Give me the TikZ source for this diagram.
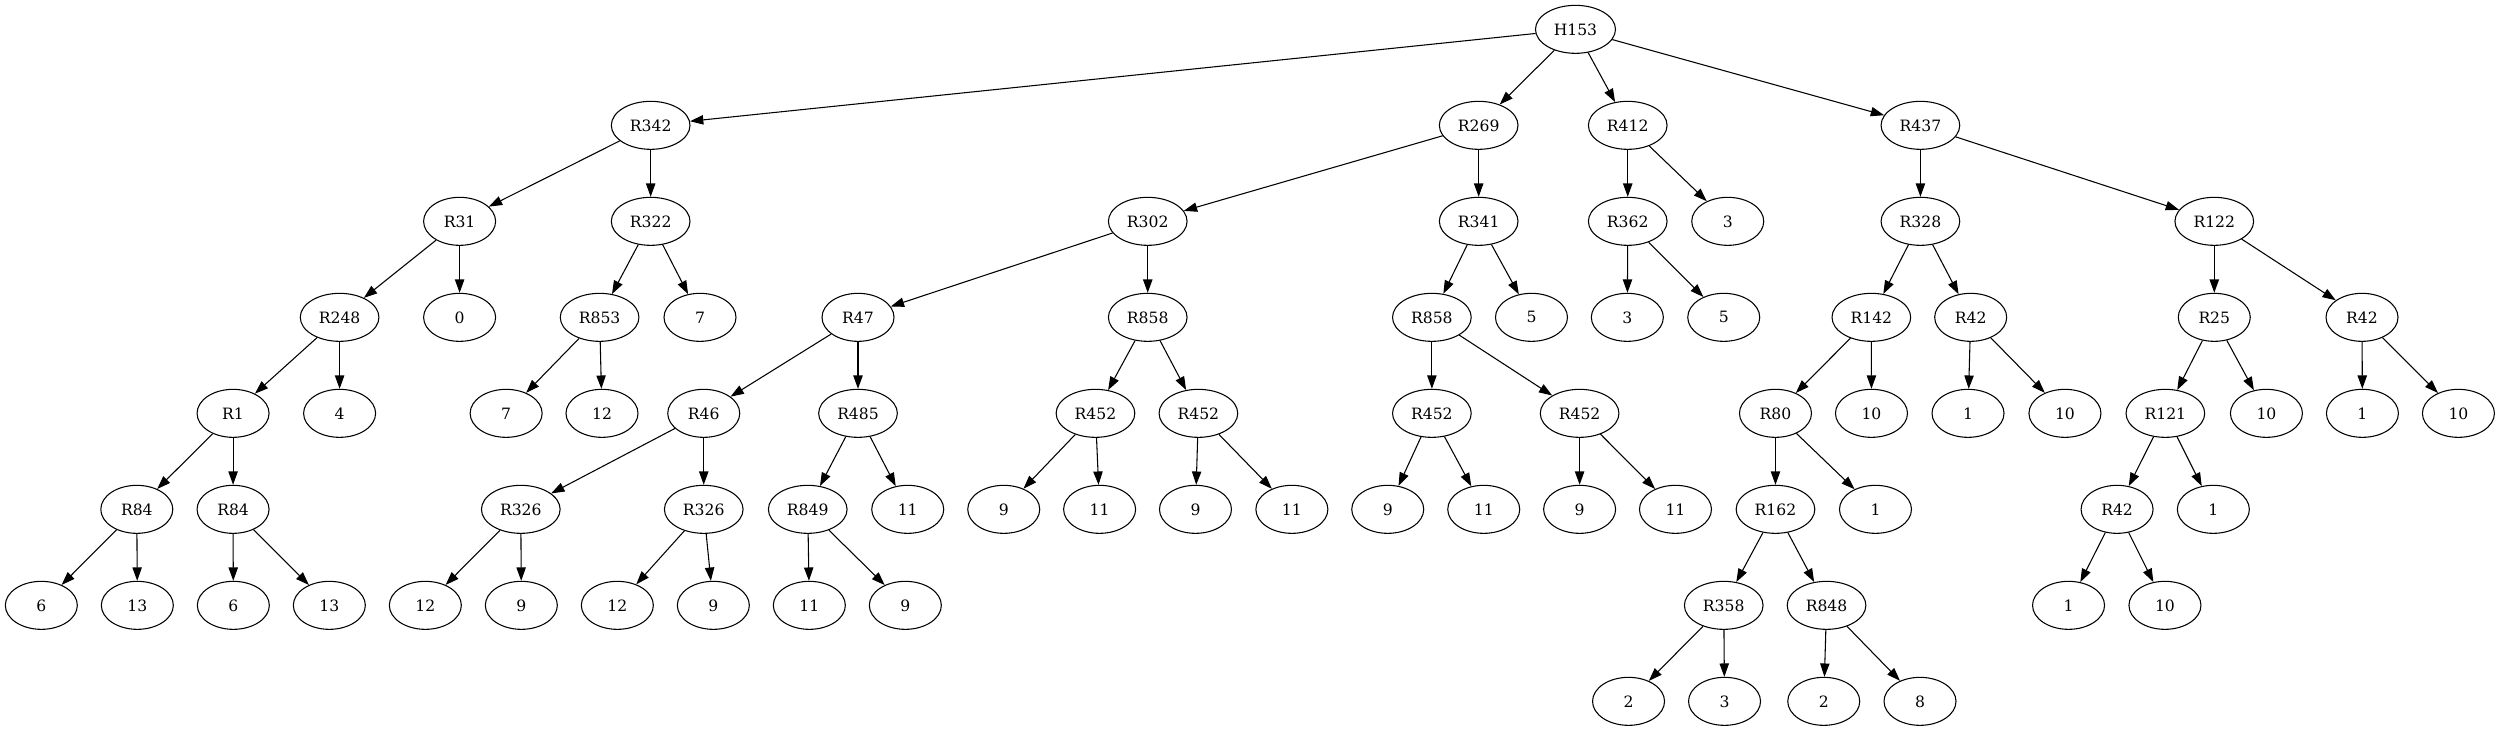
\documentclass[tikz,border=0pt]{standalone}
\usepackage{fontspec}
\setmainfont{DejaVu Serif}
\usetikzlibrary{arrows.meta,shapes.geometric}
\tikzset{
  nd/.style={draw, ellipse, line width=0.8pt, inner sep=0pt, minimum width=54pt, minimum height=36pt, font=\fontsize{11.7}{13}\selectfont},
  wd/.style={nd, minimum width=59pt},
  hd/.style={nd, minimum width=60pt},
  ar/.style={line width=0.8pt, -{Triangle[length=10pt,width=7pt]}}
}
\begin{document}
\begin{tikzpicture}[x=1pt,y=-1pt]
\useasboundingbox (0,0) rectangle (1872.75,548.25);
% row 0
\node[hd] (H153) at (1181.6,22) {H153};
% row 1
\node[wd] (R342) at (488,94) {R342};
\node[wd] (R269) at (1109,94) {R269};
\node[wd] (R412) at (1220.8,94) {R412};
\node[wd] (R437) at (1440.3,94) {R437};
% row 2
\node[nd] (R31) at (344.7,166) {R31};
\node[wd] (R322) at (488,166) {R322};
\node[wd] (R302) at (860.8,166) {R302};
\node[wd] (R341) at (1109,166) {R341};
\node[wd] (R362) at (1220.8,166) {R362};
\node[nd] (n3a) at (1295.8,166) {3};
\node[wd] (R328) at (1440.3,166) {R328};
\node[wd] (R122) at (1660.7,166) {R122};
% row 3
\node[wd] (R248) at (254.7,238) {R248};
\node[nd] (n0) at (344.7,238) {0};
\node[wd] (R853) at (449.7,238) {R853};
\node[nd] (n7a) at (525,238) {7};
\node[nd] (R47) at (643.5,238) {R47};
\node[wd] (R858a) at (860.8,238) {R858};
\node[wd] (R858b) at (1073.9,238) {R858};
\node[nd] (n5a) at (1148.6,238) {5};
\node[nd] (n3b) at (1220.5,238) {3};
\node[nd] (n5b) at (1292.8,238) {5};
\node[wd] (R142) at (1403.5,238) {R142};
\node[nd] (R42a) at (1478,238) {R42};
\node[nd] (R25) at (1660.7,238) {R25};
\node[nd] (R42b) at (1771.5,238) {R42};
% row 4
\node[nd] (R1) at (174.8,310) {R1};
\node[nd] (n4) at (254.7,310) {4};
\node[nd] (n7b) at (379.6,310) {7};
\node[nd] (n12a) at (451.5,310) {12};
\node[nd] (R46) at (527.8,310) {R46};
\node[wd] (R485) at (643.5,310) {R485};
\node[wd] (R452a) at (821.6,310) {R452};
\node[wd] (R452b) at (898.8,310) {R452};
\node[wd] (R452c) at (1073.9,310) {R452};
\node[wd] (R452d) at (1184.7,310) {R452};
\node[nd] (R80) at (1331.6,310) {R80};
\node[nd] (n10a) at (1403.6,310) {10};
\node[nd] (n1a) at (1476,310) {1};
\node[nd] (n10b) at (1548.7,310) {10};
\node[wd] (R121) at (1624,310) {R121};
\node[nd] (n10c) at (1699.8,310) {10};
\node[nd] (n1b) at (1771.8,310) {1};
\node[nd] (n10d) at (1843.8,310) {10};
% row 5
\node[nd] (R84a) at (102.6,382) {R84};
\node[nd] (R84b) at (174.8,382) {R84};
\node[wd] (R326a) at (390.6,382) {R326};
\node[wd] (R326b) at (527.8,382) {R326};
\node[wd] (R849) at (605.8,382) {R849};
\node[nd] (n11a) at (680.8,382) {11};
\node[nd] (n9a) at (752.8,382) {9};
\node[nd] (n11b) at (824.7,382) {11};
\node[nd] (n9b) at (896.6,382) {9};
\node[nd] (n11c) at (968.9,382) {11};
\node[nd] (n9c) at (1040.8,382) {9};
\node[nd] (n11d) at (1112.8,382) {11};
\node[nd] (n9d) at (1184.7,382) {9};
\node[nd] (n11e) at (1256.6,382) {11};
\node[wd] (R162) at (1331.6,382) {R162};
\node[nd] (n1c) at (1406.6,382) {1};
\node[nd] (R42c) at (1587.8,382) {R42};
\node[nd] (n1d) at (1660,382) {1};
% row 6
\node[nd] (n6a) at (31,454) {6};
\node[nd] (n13a) at (103,454) {13};
\node[nd] (n6b) at (175,454) {6};
\node[nd] (n13b) at (247,454) {13};
\node[nd] (n12b) at (319,454) {12};
\node[nd] (n9e) at (391,454) {9};
\node[nd] (n12c) at (463,454) {12};
\node[nd] (n9f) at (535,454) {9};
\node[nd] (n11f) at (607,454) {11};
\node[nd] (n9g) at (679,454) {9};
\node[wd] (R358) at (1292.8,454) {R358};
\node[wd] (R848) at (1369.9,454) {R848};
\node[nd] (n1e) at (1551.4,454) {1};
\node[nd] (n10e) at (1623.7,454) {10};
% row 7
\node[nd] (n2a) at (1221.4,526) {2};
\node[nd] (n3c) at (1293.4,526) {3};
\node[nd] (n2b) at (1367.8,526) {2};
\node[nd] (n8) at (1440,526) {8};
% edges
\foreach \a/\b in {H153/R342,H153/R269,H153/R412,H153/R437,
  R342/R31,R342/R322,R31/R248,R31/n0,R248/R1,R248/n4,R1/R84a,R1/R84b,
  R84a/n6a,R84a/n13a,R84b/n6b,R84b/n13b,R322/R853,R322/n7a,R853/n7b,R853/n12a,
  R269/R302,R269/R341,R302/R47,R302/R858a,R47/R46,R47/R485,R46/R326a,R46/R326b,
  R326a/n12b,R326a/n9e,R326b/n12c,R326b/n9f,R485/R849,R485/n11a,R849/n11f,R849/n9g,
  R858a/R452a,R858a/R452b,R452a/n9a,R452a/n11b,R452b/n9b,R452b/n11c,
  R341/R858b,R341/n5a,R858b/R452c,R858b/R452d,R452c/n9c,R452c/n11d,R452d/n9d,R452d/n11e,
  R412/R362,R412/n3a,R362/n3b,R362/n5b,
  R437/R328,R437/R122,R328/R142,R328/R42a,R142/R80,R142/n10a,R80/R162,R80/n1c,
  R162/R358,R162/R848,R358/n2a,R358/n3c,R848/n2b,R848/n8,R42a/n1a,R42a/n10b,
  R122/R25,R122/R42b,R25/R121,R25/n10c,R121/R42c,R121/n1d,R42c/n1e,R42c/n10e,
  R42b/n1b,R42b/n10d}
  \draw[ar] (\a) -- (\b);
\end{tikzpicture}
\end{document}
